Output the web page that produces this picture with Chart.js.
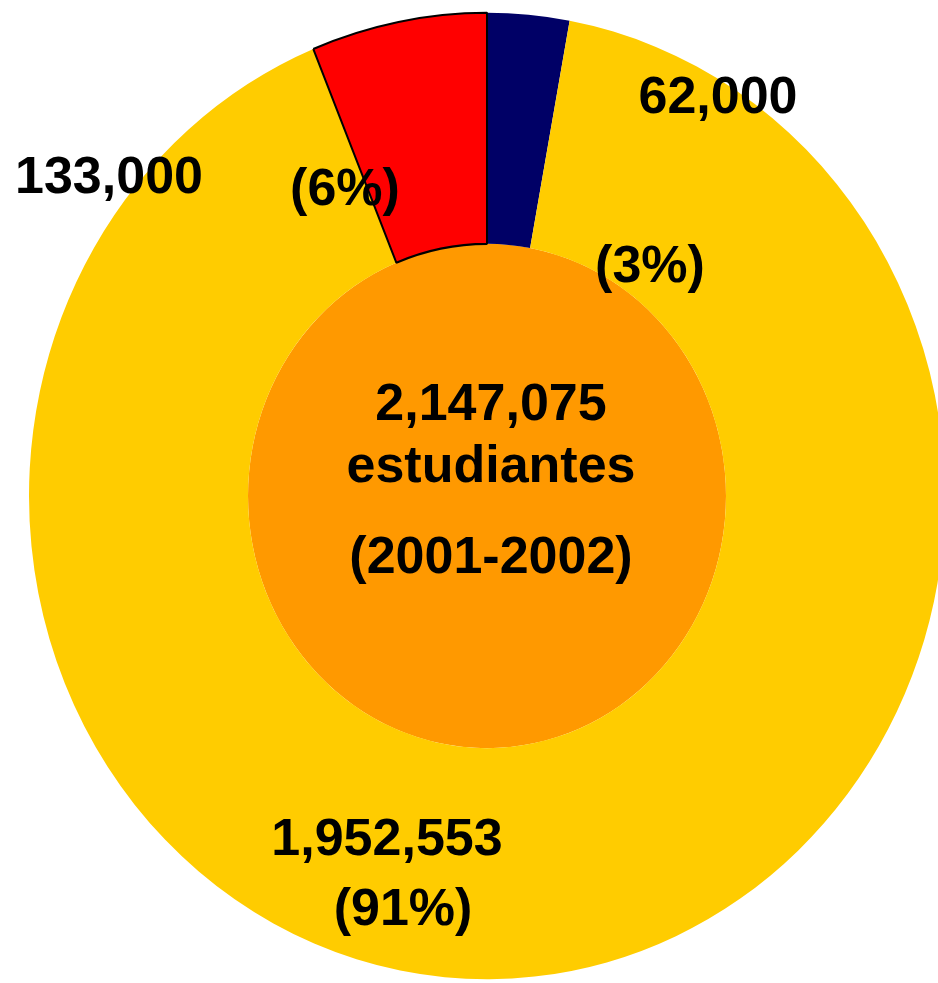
<!DOCTYPE html>
<html>
<head>
<meta charset="utf-8">
<script src="https://cdn.jsdelivr.net/npm/chart.js@4.4.1/dist/chart.umd.min.js"></script>
<style>
  html, body { margin: 0; padding: 0; background: #fff; overflow: hidden; width: 938px; height: 983px; }
  #chart { position: absolute; left: 0; top: 0; }
</style>
</head>
<body>
<canvas id="chart" width="960" height="983"></canvas>
<script>
// data (slices clockwise from the top)
const categories = ["62,000", "1,952,553", "133,000"];
const studentCounts = [62000, 1952553, 133000];
const percentLabels = ["(3%)", "(91%)", "(6%)"];
const sliceColors = ["#000066", "#FFCC00", "#FF0000"];
const centerLines = ["2,147,075", "estudiantes", "(2001-2002)"];

// where each label sits, relative to the pie centre (dx, dy of baseline)
const valueLabelPos = [[231, -383], [-100, 359], [-378, -303]];
const percentLabelPos = [[163, -214], [-84, 429], [-142, -291]];
const centerLinePos = [[4, -76], [4, -14], [4, 77]];

const FONT = "bold 52px 'Liberation Sans', Arial, sans-serif";
const STRETCH_Y = 1.055; // original pie is a bit taller than wide

// squash the round pie into the slightly tall ellipse of the original
const ellipsePlugin = {
  id: "ellipse",
  beforeDatasetsDraw(chart) {
    const arc = chart.getDatasetMeta(0).data[0];
    const ctx = chart.ctx;
    ctx.save();
    ctx.translate(arc.x, arc.y);
    ctx.scale(1, STRETCH_Y);
    ctx.translate(-arc.x, -arc.y);
  },
  afterDatasetsDraw(chart) {
    chart.ctx.restore();
  },
};

const labelsPlugin = {
  id: "labels",
  afterDraw(chart) {
    const arc = chart.getDatasetMeta(0).data[0];
    const ctx = chart.ctx;
    ctx.save();
    ctx.font = FONT;
    ctx.fillStyle = "#000";
    ctx.textAlign = "center";
    ctx.textBaseline = "alphabetic";
    categories.forEach((txt, i) => {
      ctx.fillText(txt, arc.x + valueLabelPos[i][0], arc.y + valueLabelPos[i][1]);
      ctx.fillText(percentLabels[i], arc.x + percentLabelPos[i][0], arc.y + percentLabelPos[i][1]);
    });
    centerLines.forEach((txt, i) => {
      ctx.fillText(txt, arc.x + centerLinePos[i][0], arc.y + centerLinePos[i][1]);
    });
    ctx.restore();
  },
};

const config = {
  type: "pie",
  data: {
    labels: categories,
    datasets: [
      {
        data: studentCounts,
        backgroundColor: sliceColors,
        borderColor: ["#000066", "#FFCC00", "#000000"],
        borderWidth: [0, 0, 2],
        hoverOffset: 0,
        weight: 219,
      },
      {
        // orange centre disc
        data: [1],
        backgroundColor: ["#FF9900"],
        borderWidth: 0,
        hoverOffset: 0,
        weight: 239,
      },
    ],
  },
  options: {
    responsive: false,
    devicePixelRatio: 1,
    animation: false,
    events: [],
    layout: { padding: { left: 28, right: 14, top: 37, bottom: 28 } },
    plugins: {
      legend: { display: false },
      tooltip: { enabled: false },
    },
  },
  plugins: [ellipsePlugin, labelsPlugin],
};

const myChart = new Chart(document.getElementById("chart"), config);
</script>
</body>
</html>
